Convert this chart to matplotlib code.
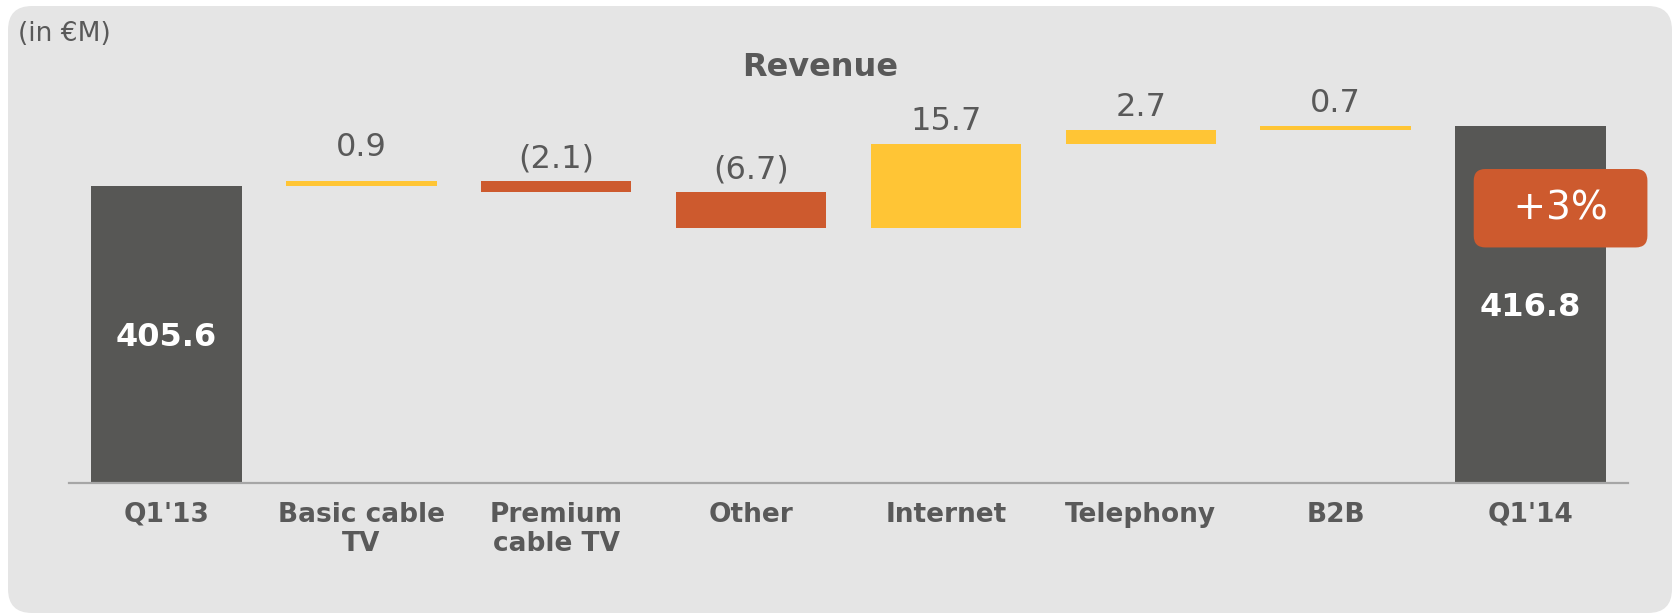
import numpy as np
import matplotlib.pyplot as plt
from matplotlib.patches import FancyBboxPatch
from matplotlib.transforms import IdentityTransform

# data
categories = ["Q1'13", "Basic cable\nTV", "Premium\ncable TV", "Other",
              "Internet", "Telephony", "B2B", "Q1'14"]
start_total = 405.6
end_total = 416.8
deltas = [0.9, -2.1, -6.7, 15.7, 2.7, 0.7]
growth_label = "+3%"
unit_label = "(in €M)"
title = "Revenue"
BASE = 350.0  # broken axis: bars start here

DARK = '#575755'
YELLOW = '#FFC535'
ORANGE = '#CD5A2E'
TEXT = '#595959'
PANEL = '#E5E5E5'

W, H = 1674, 614
fig = plt.figure(figsize=(W / 100, H / 100), dpi=100)
fig.patch.set_facecolor('white')

# rounded grey panel behind everything
panel = FancyBboxPatch((8, 1), 1664, 607, boxstyle="round,pad=0,rounding_size=24",
                       transform=IdentityTransform(), facecolor=PANEL,
                       edgecolor='none', zorder=-5)
fig.patches.append(panel)

ax = fig.add_axes([69 / W, 1 - 482.5 / H, (1628 - 69) / W, 482.5 / H])
ax.set_zorder(2)
ax.set_facecolor('none')
ax.set_xlim(-0.5, 7.5)
ax.set_ylim(BASE, BASE + 482.5 / 5.336)

x = np.arange(len(categories))
width = 0.772

# totals
ax.bar(x[0], start_total - BASE, bottom=BASE, width=width, color=DARK, zorder=2)
ax.bar(x[-1], end_total - BASE, bottom=BASE, width=width, color=DARK, zorder=2)

# floating deltas
level = start_total
for i, d in enumerate(deltas, start=1):
    bottom = level if d >= 0 else level + d
    col = YELLOW if d >= 0 else ORANGE
    ax.bar(x[i], abs(d), bottom=bottom, width=width, color=col, zorder=2)
    top = bottom + abs(d)
    txt = f"{d:.1f}" if d >= 0 else f"({abs(d):.1f})"
    off = 24 if i == 1 else 16
    ax.annotate(txt, (x[i], top), xytext=(0, off), textcoords='offset points',
                ha='center', va='center', fontsize=23, color=TEXT)
    level += d

# values inside total bars
for xi, tot in ((x[0], start_total), (x[-1], end_total)):
    ax.annotate(f"{tot:.1f}", (xi, (BASE + tot) / 2), xytext=(0, -2.5),
                textcoords='offset points', ha='center', va='center',
                fontsize=23, fontweight='bold', color='white', zorder=3)

# growth badge
ax.text(x[-1] + 0.154, end_total - 15.4, "\u2002" + growth_label + "\u2002",
        ha='center', va='center', fontsize=28, color='white', zorder=4,
        bbox=dict(boxstyle="round,pad=0.52,rounding_size=0.3",
                  facecolor=ORANGE, edgecolor='none'))

ax.set_xticks(x)
ax.set_xticklabels(categories, fontsize=19, fontweight='bold', color=TEXT,
                   linespacing=1.15)
ax.tick_params(axis='x', length=0, pad=14)
ax.set_yticks([])
for s in ('top', 'left', 'right'):
    ax.spines[s].set_visible(False)
ax.spines['bottom'].set_color('#A6A6A6')
ax.spines['bottom'].set_linewidth(1.6)

fig.text(820 / W, 1 - 68 / H, title, ha='center', va='center',
         fontsize=23, fontweight='bold', color=TEXT)
fig.text(18 / W, 1 - 34 / H, unit_label, ha='left', va='center',
         fontsize=19, color=TEXT)

fig.savefig('out.png', dpi=100, facecolor=fig.get_facecolor())
